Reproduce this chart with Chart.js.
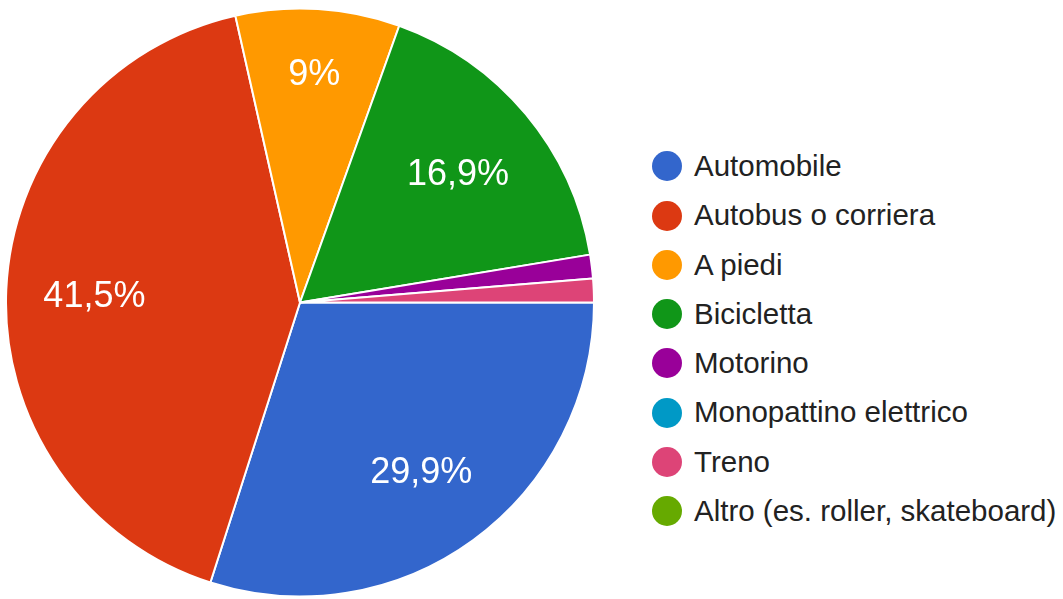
<!DOCTYPE html>
<html>
<head>
<meta charset="utf-8">
<script src="https://cdn.jsdelivr.net/npm/chart.js@4"></script>
<style>
    html, body { margin: 0; padding: 0; background: #fff; }
    body { width: 1063px; height: 599px; position: relative; overflow: hidden; font-family: "Liberation Sans", Arial, sans-serif; }
    #pieBox { position: absolute; left: 5px; top: 7px; width: 590px; height: 591px; }
    #legend { position: absolute; left: 652px; top: 141px; margin: 0; padding: 0; list-style: none; }
    #legend li { height: 49.3px; line-height: 49.3px; font-size: 29.5px; color: #222; white-space: nowrap; }
    #legend span.dot { display: inline-block; width: 30px; height: 30px; border-radius: 50%; vertical-align: middle; margin: -4px 12px 0 0; }
</style>
</head>
<body>
<div id="pieBox"><canvas id="pie"></canvas></div>
<ul id="legend"></ul>
<script>
(function () {
    "use strict";

    const labels = ["Automobile", "Autobus o corriera", "A piedi", "Bicicletta", "Motorino", "Monopattino elettrico", "Treno", "Altro (es. roller, skateboard)"];
    const percents = [29.9, 41.5, 9, 16.9, 1.3, 0, 1.3, 0];
    const colors = ["#3366cc", "#dc3912", "#ff9900", "#109618", "#990099", "#0099c6", "#dd4477", "#66aa00"];

    // Legend
    const ul = document.getElementById("legend");
    labels.forEach((name, i) => {
        const li = document.createElement("li");
        const dot = document.createElement("span");
        dot.className = "dot";
        dot.style.background = colors[i];
        li.appendChild(dot);
        li.appendChild(document.createTextNode(name));
        ul.appendChild(li);
    });

    // Slice labels, Google-style: narrow slices pushed further out
    const sliceLabels = {
        id: "sliceLabels",
        afterDatasetsDraw(chart) {
            const ctx = chart.ctx;
            const meta = chart.getDatasetMeta(0);
            ctx.save();
            ctx.fillStyle = "#fff";
            ctx.font = "36px 'Liberation Sans', Arial, sans-serif";
            ctx.textAlign = "center";
            ctx.textBaseline = "alphabetic";
            meta.data.forEach((arc, i) => {
                const v = percents[i];
                if (v < 5) return;
                const p = arc.getProps(["x", "y", "startAngle", "endAngle", "outerRadius"], true);
                const mid = (p.startAngle + p.endAngle) / 2;
                const r = p.outerRadius * (v < 12 ? 0.79 : 0.7);
                // baseline sits about half a cap height below the centre
                ctx.fillText(String(v).replace(".", ",") + "%", p.x + Math.cos(mid) * r, p.y + Math.sin(mid) * r + 14);
            });
            ctx.restore();
        },
    };

    new Chart(document.getElementById("pie"), {
        type: "pie",
        data: {
            labels: labels,
            datasets: [
                {
                    data: percents,
                    backgroundColor: colors,
                    borderColor: "#fff",
                    borderWidth: 2,
                },
            ],
        },
        options: {
            responsive: true,
            maintainAspectRatio: false,
            animation: false,
            rotation: 90,
            layout: { padding: 0 },
            plugins: {
                legend: { display: false },
                tooltip: { enabled: false },
            },
        },
        plugins: [sliceLabels],
    });
})();
</script>
</body>
</html>
